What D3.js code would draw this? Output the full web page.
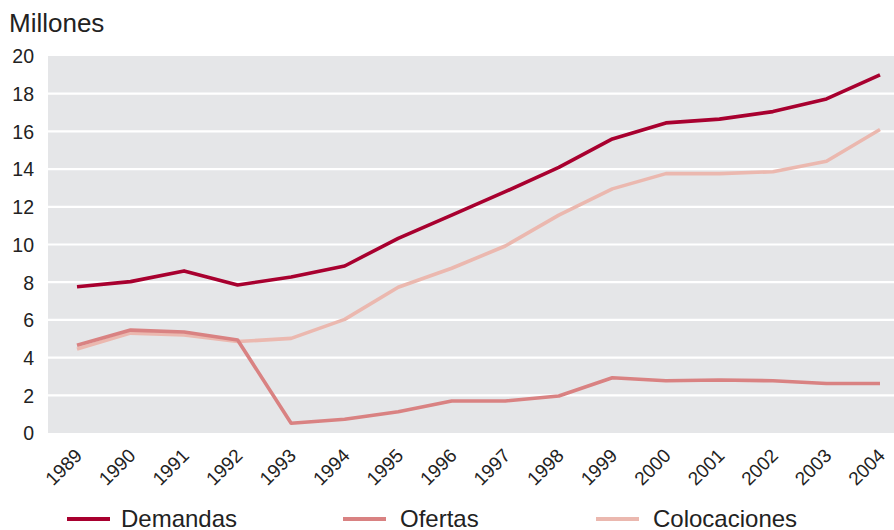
<!DOCTYPE html>
<html><head><meta charset="utf-8">
<script src="https://cdn.jsdelivr.net/npm/d3@7"></script>
<style>html,body{margin:0;padding:0;background:#fff;}svg{display:block;font-family:"Liberation Sans",Arial,sans-serif;}</style>
</head><body>
<svg id="c" width="894" height="530"></svg>
<script>
const years = [1989,1990,1991,1992,1993,1994,1995,1996,1997,1998,1999,2000,2001,2002,2003,2004];
const demandas = [7.76,8.03,8.6,7.85,8.28,8.86,10.33,11.56,12.8,14.09,15.6,16.45,16.65,17.05,17.72,19.0];
const ofertas = [4.65,5.46,5.36,4.93,0.52,0.73,1.13,1.7,1.7,1.96,2.93,2.77,2.81,2.77,2.63,2.63];
const colocaciones = [4.45,5.3,5.2,4.85,5.02,6.03,7.73,8.74,9.92,11.56,12.95,13.76,13.76,13.86,14.42,16.1];
const yTicks = [0,2,4,6,8,10,12,14,16,18,20];
const seriesNames = ["Demandas","Ofertas","Colocaciones"];
const colors = ["#a8002f","#d98282","#ebb8af"];

const svg = d3.select("#c");
const x = d3.scaleLinear().domain([1989,2004]).range([77,880]);
const y = d3.scaleLinear().domain([0,20]).range([433,56]);

svg.append("rect").attr("x",48).attr("y",y(20)).attr("width",894-48).attr("height",y(0)-y(20)).attr("fill","#e5e6e8");

svg.append("g").selectAll("line").data(yTicks.filter(d=>d>0&&d<20)).join("line")
  .attr("x1",48).attr("x2",894).attr("y1",d=>y(d)).attr("y2",d=>y(d))
  .attr("stroke","#fff").attr("stroke-width",2.2);

const yAxis = svg.append("g").attr("transform","translate(34,0)")
  .call(d3.axisLeft(y).tickValues(yTicks).tickSize(0).tickPadding(0));
yAxis.select(".domain").remove();
yAxis.selectAll("text").attr("font-size",19.5).attr("fill","#222").attr("font-family","Liberation Sans, Arial, sans-serif").attr("dy","0.35em");

const xAxis = svg.append("g").attr("transform",`translate(0,${y(0)})`)
  .call(d3.axisBottom(x).tickValues(years).tickFormat(d3.format("d")).tickSize(0));
xAxis.select(".domain").remove();
xAxis.selectAll("text").attr("font-size",19).attr("fill","#222").attr("font-family","Liberation Sans, Arial, sans-serif")
  .attr("text-anchor","end").attr("y",0).attr("dy","0.35em")
  .attr("transform","translate(1,19) rotate(-45)");

svg.append("text").attr("x",9).attr("y",32).attr("font-size",26).attr("fill","#222").text("Millones");

const line = d3.line().x((d,i)=>x(years[i])).y(d=>y(d));
const data = [demandas, ofertas, colocaciones];
[2,1,0].forEach(k=>{
  svg.append("path").datum(data[k]).attr("d",line).attr("fill","none")
    .attr("stroke",colors[k]).attr("stroke-width",3.6).attr("stroke-linejoin","round");
});

const legX = [67,343,596];
const lg = svg.append("g").selectAll("g").data(seriesNames).join("g")
  .attr("transform",(d,i)=>`translate(${legX[i]},519)`);
lg.append("line").attr("x1",0).attr("x2",43).attr("stroke",(d,i)=>colors[i]).attr("stroke-width",4);
lg.append("text").attr("x",(d,i)=>[54,57,57][i]).attr("y",8).attr("font-size",24).attr("fill","#222").text(d=>d);
</script>
</body></html>
